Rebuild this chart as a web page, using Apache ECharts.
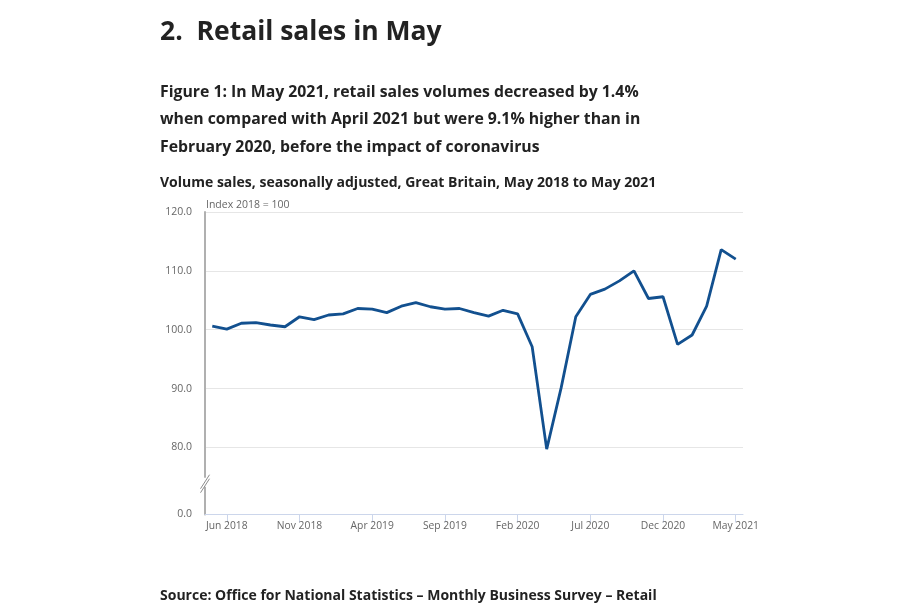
<!DOCTYPE html>
<html>
<head>
<meta charset="utf-8">
<script src="https://cdn.jsdelivr.net/npm/echarts@6/dist/echarts.min.js"></script>
<style>
html,body{margin:0;padding:0;background:#fff;}
#chart{width:920px;height:612px;}
</style>
</head>
<body>
<div id="chart"></div>
<script>
// Monthly categories, May 2018 to May 2021
const months = ['May 2018','Jun 2018','Jul 2018','Aug 2018','Sep 2018','Oct 2018','Nov 2018','Dec 2018',
  'Jan 2019','Feb 2019','Mar 2019','Apr 2019','May 2019','Jun 2019','Jul 2019','Aug 2019','Sep 2019','Oct 2019','Nov 2019','Dec 2019',
  'Jan 2020','Feb 2020','Mar 2020','Apr 2020','May 2020','Jun 2020','Jul 2020','Aug 2020','Sep 2020','Oct 2020','Nov 2020','Dec 2020',
  'Jan 2021','Feb 2021','Mar 2021','Apr 2021','May 2021'];
// Volume sales index (2018 = 100), seasonally adjusted
const volumeIndex = [100.6,100.1,101.1,101.2,100.8,100.5,102.2,101.7,102.5,102.7,103.6,103.5,
  102.9,104.0,104.6,103.9,103.5,103.6,102.9,102.3,103.3,102.7,97.1,79.7,90.2,102.2,106.0,
  106.9,108.3,110.0,105.3,105.6,97.5,99.1,104.0,113.6,112.0];
// Y tick values; the lowest one stands for the broken-axis zero
const axisZero = 68.6;
const yTicks = [axisZero, 80, 90, 100, 110, 120];
const yTickLabels = ['0.0', '80.0', '90.0', '100.0', '110.0', '120.0'];

const chart = echarts.init(document.getElementById('chart'), null, {renderer: 'canvas'});
const FONT = '"Open Sans", "Noto Sans", sans-serif';
const option = {
  animation: false,
  backgroundColor: '#ffffff',
  title: [
    {text: '2.  Retail sales in May', left: 160, top: 19, padding: 0,
     textStyle: {fontFamily: FONT, fontSize: 26.5, fontWeight: 'bold', color: '#222222'}},
    {text: 'Figure 1: In May 2021, retail sales volumes decreased by 1.4%\nwhen compared with April 2021 but were 9.1% higher than in\nFebruary 2020, before the impact of coronavirus',
     left: 160, top: 78.5, padding: 0,
     textStyle: {fontFamily: FONT, fontSize: 15.8, fontWeight: 'bold', color: '#222222', lineHeight: 27.5}},
    {text: 'Volume sales, seasonally adjusted, Great Britain, May 2018 to May 2021', left: 160, top: 176, padding: 0,
     textStyle: {fontFamily: FONT, fontSize: 14, fontWeight: 'bold', color: '#222222'}},
    {text: 'Source: Office for National Statistics \u2013 Monthly Business Survey \u2013 Retail', left: 160, top: 589.5, padding: 0,
     textStyle: {fontFamily: FONT, fontSize: 14, fontWeight: 'bold', color: '#222222'}}
  ],
  grid: {left: 205, right: 177, top: 212, bottom: 97.5, containLabel: false},
  xAxis: {
    type: 'category',
    data: months,
    boundaryGap: true,
    axisLine: {show: true, lineStyle: {color: '#ccd6eb', width: 1}},
    axisTick: {show: true, alignWithLabel: true, length: 8, lineStyle: {color: '#ccd6eb'},
      interval: function (i) { return (i - 1) % 5 === 0; }},
    axisLabel: {interval: function (i) { return (i - 1) % 5 === 0; },
      fontFamily: FONT, fontSize: 10.3, color: '#666666', margin: 7},
    splitLine: {show: false}
  },
  yAxis: {
    type: 'value',
    min: axisZero,
    max: 120,
    axisLine: {show: true, lineStyle: {color: '#b0b0b0', width: 2}},
    axisTick: {show: false, customValues: yTicks},
    axisLabel: {customValues: yTicks, fontFamily: FONT, fontSize: 10.5, color: '#666666', margin: 13,
      formatter: function (v) {
        const k = yTicks.indexOf(v);
        return k >= 0 ? yTickLabels[k] : '';
      }},
    splitLine: {show: true, lineStyle: {color: '#e6e6e6', width: 1}}
  },
  series: [{
    type: 'line',
    data: volumeIndex,
    symbol: 'none',
    lineStyle: {color: '#12508f', width: 2.8},
    z: 5
  }]
};
chart.setOption(option);

// Decorations: axis-break mark and unit label, positioned from the axes
const brk = chart.convertToPixel({gridIndex: 0}, [0, 74.0]);
const topY = chart.convertToPixel({yAxisIndex: 0}, 120);
chart.setOption({
  graphic: [
    {type: 'line', shape: {x1: 200.5, y1: brk[1] + 6, x2: 209.5, y2: brk[1] - 8},
     style: {stroke: '#8c8c8c', lineWidth: 1}, z: 10},
    {type: 'line', shape: {x1: 200.5, y1: brk[1] + 10, x2: 209.5, y2: brk[1] - 4},
     style: {stroke: '#8c8c8c', lineWidth: 1}, z: 10},
    {type: 'rect', shape: {x: 203, y: brk[1] - 5, width: 5, height: 9},
     style: {fill: '#ffffff'}, z: 9},
    {type: 'text', left: 206, top: topY - 12,
     style: {text: 'Index 2018 = 100', font: '10.5px ' + FONT, fill: '#666666'}, z: 10}
  ]
});
</script>
</body>
</html>
